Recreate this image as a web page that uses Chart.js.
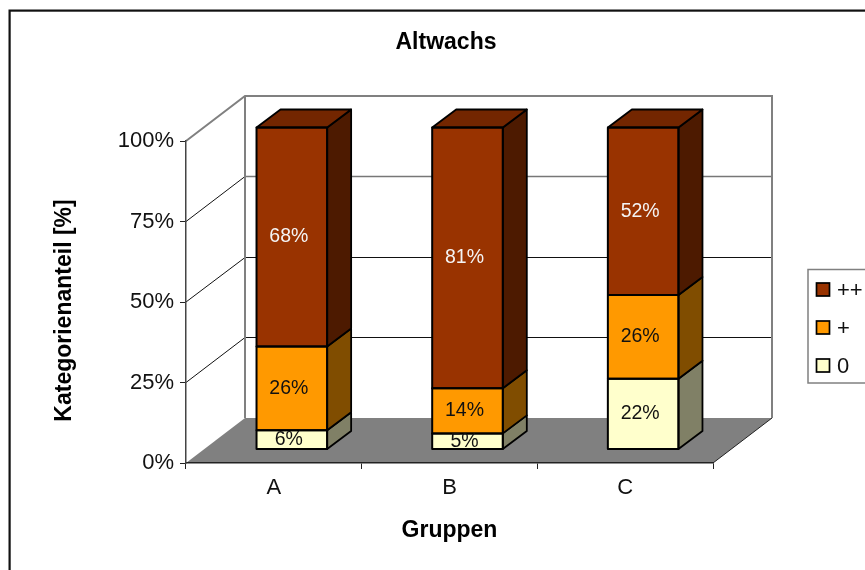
<!DOCTYPE html>
<html>
<head>
<meta charset="utf-8">
<title>Altwachs</title>
<script src="https://cdn.jsdelivr.net/npm/chart.js@4"></script>
<style>
  html, body { margin: 0; padding: 0; background: #fff; overflow: hidden; }
  canvas { display: block; }
</style>
</head>
<body>
<canvas id="chart" width="865" height="570"></canvas>
<script>
const categories = ['A', 'B', 'C'];
const seriesNames = ['0', '+', '++'];
const values0 = [6, 5, 22];
const valuesPlus = [26, 14, 26];
const valuesPlusPlus = [68, 81, 52];
const yTicks = [0, 25, 50, 75, 100];
const yAxisTitle = 'Kategorienanteil [%]';

const font = "'Liberation Sans', Arial, sans-serif";
const fronts = ['#FFFFCC', '#FF9900', '#993300'];
const sides = ['#808066', '#804D00', '#4D1A00'];
const topFace = '#732600';
const labelColors = ['#111', '#111', '#f4f4f4'];

// depth of the floor and the bars, in px
const wall = { dx: 59, dy: -45 };
const barDepth = { dx: 24, dy: -18 };
const barShift = { dx: 18, dy: -13.5 };

function poly(ctx, pts, fill, stroke, lw) {
  ctx.beginPath();
  pts.forEach((p, i) => i ? ctx.lineTo(p[0], p[1]) : ctx.moveTo(p[0], p[1]));
  ctx.closePath();
  if (fill) { ctx.fillStyle = fill; ctx.fill(); }
  if (stroke) { ctx.strokeStyle = stroke; ctx.lineWidth = lw; ctx.lineJoin = 'round'; ctx.stroke(); }
}

function line(ctx, x1, y1, x2, y2, color, lw) {
  ctx.beginPath();
  ctx.moveTo(x1, y1);
  ctx.lineTo(x2, y2);
  ctx.strokeStyle = color;
  ctx.lineWidth = lw;
  ctx.stroke();
}

const scene3d = {
  id: 'scene3d',
  afterLayout(chart) {
    // the original chart runs past the right edge of the picture
    chart.titleBlock.left = 10;
    chart.titleBlock.right = 882;
  },
  beforeDraw(chart) {
    const ctx = chart.ctx;
    const { left, right, bottom } = chart.chartArea;
    const y = chart.scales.y;
    const top = y.getPixelForValue(100);
    ctx.save();

    // outer frame
    ctx.strokeStyle = '#111';
    ctx.lineWidth = 2.2;
    ctx.strokeRect(9.6, 10.6, 1000, 1000);

    // floor
    poly(ctx, [[left, bottom], [right, bottom], [right + wall.dx, bottom + wall.dy], [left + wall.dx, bottom + wall.dy]], '#808080');
    line(ctx, right, bottom, right + wall.dx, bottom + wall.dy, '#222', 1);

    // gridlines on side wall and back wall
    yTicks.slice(1, -1).forEach(v => {
      const py = y.getPixelForValue(v);
      const back = Math.floor(py + wall.dy) + 0.5;
      line(ctx, left, py, left + wall.dx, back, '#111', 1);
      line(ctx, left + wall.dx, back, right + wall.dx, back, v === 75 ? '#777' : '#111', v === 75 ? 1.5 : 1);
    });

    // wall outline
    ctx.beginPath();
    ctx.moveTo(left, top);
    ctx.lineTo(left + wall.dx, top + wall.dy);
    ctx.lineTo(right + wall.dx, top + wall.dy);
    ctx.lineTo(right + wall.dx, bottom + wall.dy);
    ctx.moveTo(left + wall.dx, top + wall.dy);
    ctx.lineTo(left + wall.dx, bottom + wall.dy);
    ctx.strokeStyle = '#808080';
    ctx.lineWidth = 2;
    ctx.stroke();
    ctx.restore();
  },
  beforeDatasetsDraw(chart) {
    const ctx = chart.ctx;
    ctx.save();
    ctx.translate(barShift.dx, barShift.dy);
  },
  afterDatasetsDraw(chart) {
    const ctx = chart.ctx;
    const last = chart.data.datasets.length - 1;

    // side and top faces, then the outline of every front face
    chart.data.datasets.forEach((ds, di) => {
      chart.getDatasetMeta(di).data.forEach(bar => {
        const l = bar.x - bar.width / 2, r = bar.x + bar.width / 2;
        const { dx, dy } = barDepth;
        poly(ctx, [[r, bar.y], [r + dx, bar.y + dy], [r + dx, bar.base + dy], [r, bar.base]], sides[di], '#000', 1.8);
        if (di === last) {
          poly(ctx, [[l, bar.y], [l + dx, bar.y + dy], [r + dx, bar.y + dy], [r, bar.y]], topFace, '#000', 1.8);
        }
        poly(ctx, [[l, bar.y], [r, bar.y], [r, bar.base], [l, bar.base]], null, '#000', 2);
      });
    });

    // value labels
    ctx.font = '19.5px ' + font;
    ctx.textAlign = 'center';
    ctx.textBaseline = 'middle';
    chart.data.datasets.forEach((ds, di) => {
      chart.getDatasetMeta(di).data.forEach((bar, i) => {
        ctx.fillStyle = labelColors[di];
        ctx.fillText(ds.data[i] + '%', bar.x - 3, (bar.y + bar.base) / 2);
      });
    });
    ctx.restore();

    // y axis title sits a bit below the middle of the axis
    ctx.save();
    ctx.translate(65, 310.5);
    ctx.rotate(-Math.PI / 2);
    ctx.font = 'bold 23px ' + font;
    ctx.textAlign = 'center';
    ctx.textBaseline = 'middle';
    ctx.fillStyle = '#000';
    ctx.fillText(yAxisTitle, 0, 0);
    ctx.restore();

    // legend, top entry is the last series
    ctx.save();
    ctx.strokeStyle = '#808080';
    ctx.lineWidth = 1.5;
    ctx.strokeRect(808, 269.5, 100, 113.5);
    ctx.font = '22px ' + font;
    ctx.textAlign = 'left';
    ctx.textBaseline = 'middle';
    [...chart.data.datasets].reverse().forEach((ds, i) => {
      const cy = 289.5 + i * 38;
      ctx.fillStyle = ds.backgroundColor;
      ctx.fillRect(816.5, cy - 6.5, 13, 13);
      ctx.strokeStyle = '#000';
      ctx.lineWidth = 1.7;
      ctx.strokeRect(816.5, cy - 6.5, 13, 13);
      ctx.fillStyle = '#111';
      ctx.fillText(ds.label, 837, cy + 1);
    });
    ctx.restore();
  }
};

new Chart(document.getElementById('chart'), {
  type: 'bar',
  data: {
    labels: categories,
    datasets: [
      { label: seriesNames[0], data: values0, backgroundColor: fronts[0] },
      { label: seriesNames[1], data: valuesPlus, backgroundColor: fronts[1] },
      { label: seriesNames[2], data: valuesPlusPlus, backgroundColor: fronts[2] }
    ].map(d => ({ ...d, clip: false, borderWidth: 0, barPercentage: 0.402, categoryPercentage: 1 }))
  },
  options: {
    responsive: false,
    animation: false,
    layout: { padding: { left: 0, right: 152, top: 0, bottom: 0 } },
    plugins: {
      legend: { display: false },
      tooltip: { enabled: false },
      title: {
        display: true,
        text: 'Altwachs',
        color: '#000',
        font: { family: font, size: 23, weight: 'bold', lineHeight: 1.2 },
        padding: { top: 29, bottom: 84.4 }
      }
    },
    scales: {
      x: {
        stacked: true,
        afterFit(s) { s.height = 107; },
        grid: { drawOnChartArea: false, color: '#222', tickLength: 6, tickWidth: 1, offset: true },
        border: { color: '#222', width: 1.5 },
        ticks: { color: '#111', padding: 6, maxRotation: 0, font: { family: font, size: 22 } },
        title: {
          display: true,
          text: 'Gruppen',
          color: '#000',
          font: { family: font, size: 23, weight: 'bold', lineHeight: 1.2 },
          padding: { top: 0, bottom: 26 }
        }
      },
      y: {
        stacked: true,
        min: 0,
        max: 100,
        afterFit(s) { s.width = 186; },
        afterBuildTicks(s) { s.ticks = yTicks.map(v => ({ value: v })); },
        grid: { drawOnChartArea: false, color: '#222', tickLength: 6, tickWidth: 1 },
        border: { color: '#444', width: 1.5 },
        ticks: { color: '#111', padding: 6, font: { family: font, size: 22 }, callback: v => v + '%' }
      }
    }
  },
  plugins: [scene3d]
});
</script>
</body>
</html>
